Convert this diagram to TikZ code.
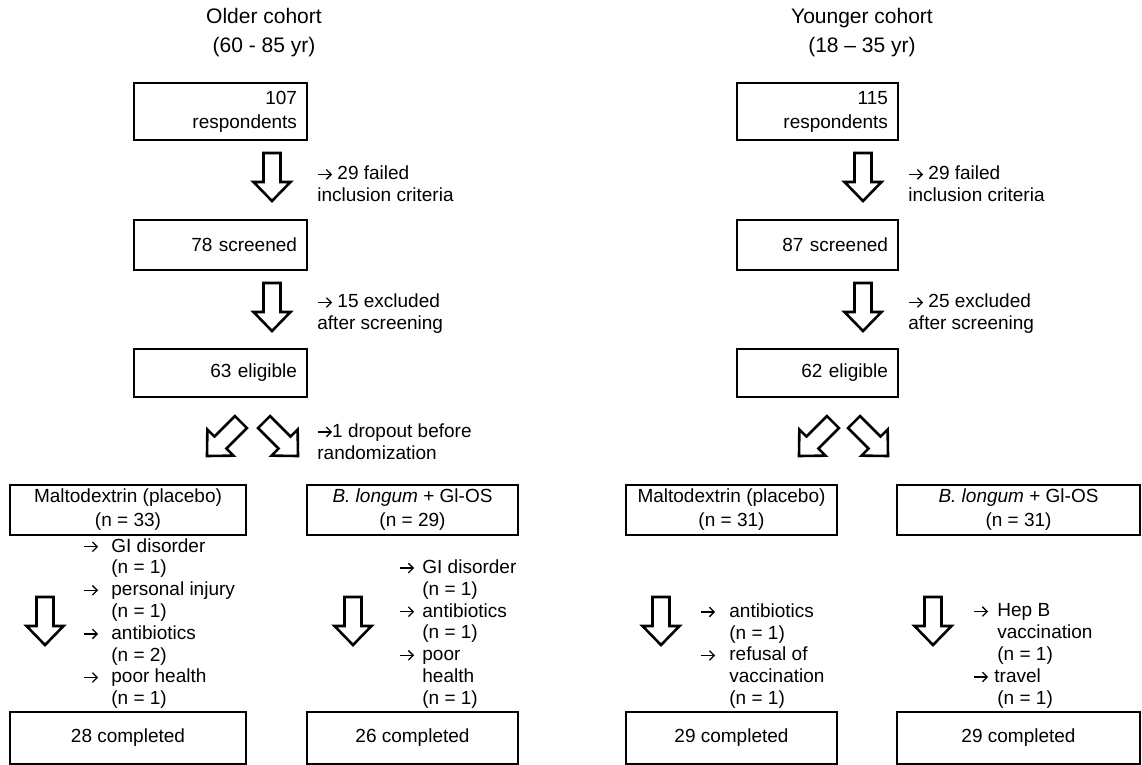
\documentclass[tikz,border=0pt]{standalone}
\usepackage{fontspec}
\setmainfont{Liberation Sans}
\tikzset{
  boxline/.style={draw, line width=0.7pt},
  rbox/.style={boxline, inner xsep=5pt, inner ysep=0pt, align=right,
     font=\fontsize{9.5}{12}\selectfont},
  cbox/.style={boxline, inner xsep=0pt, inner ysep=0pt, align=center,
     font=\fontsize{9.5}{12}\selectfont},
  titletext/.style={align=center, inner sep=0pt, font=\fontsize{10.5}{14.5}\selectfont},
  notetext/.style={align=left, anchor=west, inner sep=0pt, font=\fontsize{9.5}{11}\selectfont},
  reasontext/.style={align=left, anchor=west, inner sep=0pt, font=\fontsize{9.5}{10.9}\selectfont},
  arrowline/.style={draw, line width=1.3pt, fill=white, line join=miter},
  glyphline/.style={draw, line width=0.65pt, line join=miter, line cap=butt},
  blockarrow/.pic={\path[arrowline] (-8.5,-48) -- (8.5,-48) -- (8.5,-19) -- (18.5,-19)
       -- (0,0) -- (-18.5,-19) -- (-8.5,-19) -- cycle;}
}
\newcommand{\rarr}{\tikz[baseline=0pt,x=1pt,y=1pt]{\path[use as bounding box] (0,0) rectangle (7.4,5);
  \path[glyphline] (0.2,2.7) -- (6.9,2.7); \path[glyphline] (4.5,5.1) -- (6.9,2.7) -- (4.5,0.3);}}
\newcommand{\ar}[1]{\makebox[#1][l]{\rarr}}
\begin{document}
\begin{tikzpicture}[x=0.5pt,y=-0.5pt]
\useasboundingbox (0,0) rectangle (1142,765);

% titles
\node[titletext] (told) at (264,32.5) {Older cohort\\(60 - 85 yr)};
\node[titletext] (tyoung) at (862,32.5) {Younger cohort\\(18 – 35 yr)};

% older column boxes
\node[rbox, text width=76.5pt, minimum height=28.5pt] (a1) at (220.5,111.5) {107\\respondents};
\node[rbox, text width=76.5pt, minimum height=25pt] (a2) at (220.5,245) {78 screened};
\node[rbox, text width=76.5pt, minimum height=24pt] (a3) at (220.5,373) {63 eligible};

% younger column boxes
\node[rbox, text width=70.5pt, minimum height=28.5pt] (b1) at (817.5,111.5) {115\\respondents};
\node[rbox, text width=70.5pt, minimum height=25pt] (b2) at (817.5,245) {87 screened};
\node[rbox, text width=70.5pt, minimum height=24pt] (b3) at (817.5,373) {62 eligible};

% notes
\node[notetext] (n1) at (317,184) {\rarr{} 29 failed\\inclusion criteria};
\node[notetext] (n2) at (317,314) {\rarr{} 15 excluded\\after screening};
\node[notetext] (n3) at (317,441.5) {\rarr1 dropout before\\randomization};
\node[notetext] (m1) at (908,184) {\rarr{} 29 failed\\inclusion criteria};
\node[notetext] (m2) at (908,314) {\rarr{} 25 excluded\\after screening};

% down arrows top part
\pic at (272,201) {blockarrow};
\pic at (272,331) {blockarrow};
\pic at (863,201) {blockarrow};
\pic at (863,331) {blockarrow};

% diagonal arrows
\pic[rotate=-45] at (207,456) {blockarrow};
\pic[rotate=45] at (298,456) {blockarrow};
\pic[rotate=-45] at (799,456) {blockarrow};
\pic[rotate=45] at (888,456) {blockarrow};

% group boxes
\node[cbox, minimum width=118pt, minimum height=25pt] (la) at (128,510) {Maltodextrin (placebo)\\(n = 33)};
\node[cbox, minimum width=105.5pt, minimum height=25pt] (lb) at (412.5,510) {\textit{B. longum} + Gl-OS\\(n = 29)};
\node[cbox, minimum width=105.5pt, minimum height=25pt] (ra) at (731.5,510) {Maltodextrin (placebo)\\(n = 31)};
\node[cbox, minimum width=121.5pt, minimum height=25pt] (rb) at (1018.5,510) {\textit{B. longum} + Gl-OS\\(n = 31)};

% completed boxes
\node[cbox, minimum width=118pt, minimum height=26pt] (lac) at (128,738) {28 completed};
\node[cbox, minimum width=105.5pt, minimum height=26pt] (lbc) at (412.5,738) {26 completed};
\node[cbox, minimum width=105.5pt, minimum height=26pt] (rac) at (731.5,738) {29 completed};
\node[cbox, minimum width=121.5pt, minimum height=26pt] (rbc) at (1018.5,738) {29 completed};

% lower down arrows
\pic at (45,645) {blockarrow};
\pic at (353,645) {blockarrow};
\pic at (661,645) {blockarrow};
\pic at (933,645) {blockarrow};

% reasons
\node[reasontext] (rla) at (83,623.5) {\ar{14pt}GI disorder\\\hspace*{14pt}(n = 1)\\
  \ar{14pt}personal injury\\\hspace*{14pt}(n = 1)\\
  \ar{14pt}antibiotics\\\hspace*{14pt}(n = 2)\\
  \ar{14pt}poor health\\\hspace*{14pt}(n = 1)};
\node[reasontext] (rlb) at (399,634) {\ar{11.5pt}GI disorder\\\hspace*{11.5pt}(n = 1)\\
  \ar{11.5pt}antibiotics\\\hspace*{11.5pt}(n = 1)\\
  \ar{11.5pt}poor\\\hspace*{11.5pt}health\\\hspace*{11.5pt}(n = 1)};
\node[reasontext] (rra) at (700,656) {\ar{14.5pt}antibiotics\\\hspace*{14.5pt}(n = 1)\\
  \ar{14.5pt}refusal of\\\hspace*{14.5pt}vaccination\\\hspace*{14.5pt}(n = 1)};
\node[reasontext] (rrb) at (973,656) {\ar{12pt}Hep B\\\hspace*{12pt}vaccination\\\hspace*{12pt}(n = 1)\\
  \ar{10.5pt}travel\\\hspace*{12pt}(n = 1)};
\end{tikzpicture}
\end{document}
